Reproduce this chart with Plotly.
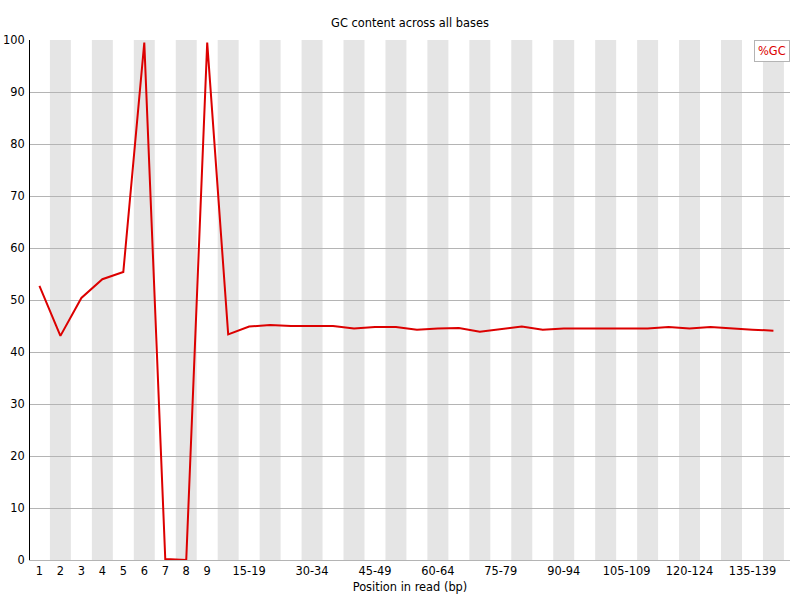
"""FastQC-style 'GC content across all bases' line chart."""

import plotly.graph_objects as go

# per-base positions: single bases 1-9, then 5 bp bins
positions = [str(i) for i in range(1, 10)] + [f"{s}-{s + 4}" for s in range(10, 145, 5)]

gc_percent = [
    52.7, 43.1, 50.4, 54.0, 55.4, 99.5, 0.2, 0.0, 99.5,
    43.4, 44.9, 45.2, 45.0, 45.0, 45.0, 44.5, 44.8, 44.8,
    44.3, 44.5, 44.6, 43.9, 44.4, 44.9, 44.3, 44.5, 44.5,
    44.5, 44.5, 44.5, 44.8, 44.5, 44.8, 44.5, 44.3, 44.1,
]

# only every third bin gets a label on the axis
tick_labels = positions[:9] + positions[10::3]
y_ticks = list(range(0, 101, 10))

LINE_RED = "rgb(220,0,0)"
BAND_GREY = "rgb(229,229,229)"
GRID_GREY = "rgb(180,180,180)"
FONT = "DejaVu Sans"
FONT_SIZE = 11.4

fig = go.Figure()
fig.add_trace(
    go.Scatter(
        x=positions,
        y=gc_percent,
        mode="lines",
        name="%GC",
        line=dict(color=LINE_RED, width=2),
    )
)

# alternating background stripes, one per category
for i, _ in enumerate(positions):
    if i % 2 == 1:
        fig.add_shape(
            type="rect",
            xref="x",
            yref="paper",
            x0=i - 0.5,
            x1=i + 0.5,
            y0=0,
            y1=1,
            fillcolor=BAND_GREY,
            line=dict(width=0),
            layer="below",
        )

fig.add_annotation(
    text="%GC",
    xref="paper",
    yref="paper",
    x=1,
    y=1,
    xanchor="right",
    yanchor="top",
    showarrow=False,
    font=dict(color=LINE_RED, size=FONT_SIZE, family=FONT),
    bgcolor="white",
    bordercolor=GRID_GREY,
    borderwidth=1,
    borderpad=3,
)

fig.update_layout(
    width=800,
    height=600,
    margin=dict(l=30, r=10, t=40, b=40),
    paper_bgcolor="white",
    plot_bgcolor="white",
    showlegend=False,
    font=dict(family=FONT, size=FONT_SIZE, color="black"),
    title=dict(
        text="GC content across all bases",
        x=0.5125,
        xanchor="center",
        y=0.962,
        yanchor="middle",
        font=dict(size=FONT_SIZE, family=FONT),
    ),
)
fig.update_xaxes(
    type="category",
    range=[-0.45, 35.79],
    tickmode="array",
    tickvals=tick_labels,
    ticktext=tick_labels,
    tickangle=0,
    showgrid=False,
    showline=True,
    linecolor=GRID_GREY,
    ticks="",
    automargin=False,
    title=dict(text="Position in read (bp)", font=dict(size=FONT_SIZE), standoff=6),
)
fig.update_yaxes(
    range=[0, 100],
    tickmode="array",
    tickvals=y_ticks,
    showgrid=True,
    gridcolor=GRID_GREY,
    gridwidth=1,
    zeroline=False,
    showline=True,
    linecolor="black",
    ticks="",
    automargin=False,
    ticklabelstandoff=2,
)

# drop the browser's default body margin so the 800x600 figure fills the window
fig.write_html(
    "out.html",
    config={"displayModeBar": False},
    post_script="document.body.style.margin='0';",
)
